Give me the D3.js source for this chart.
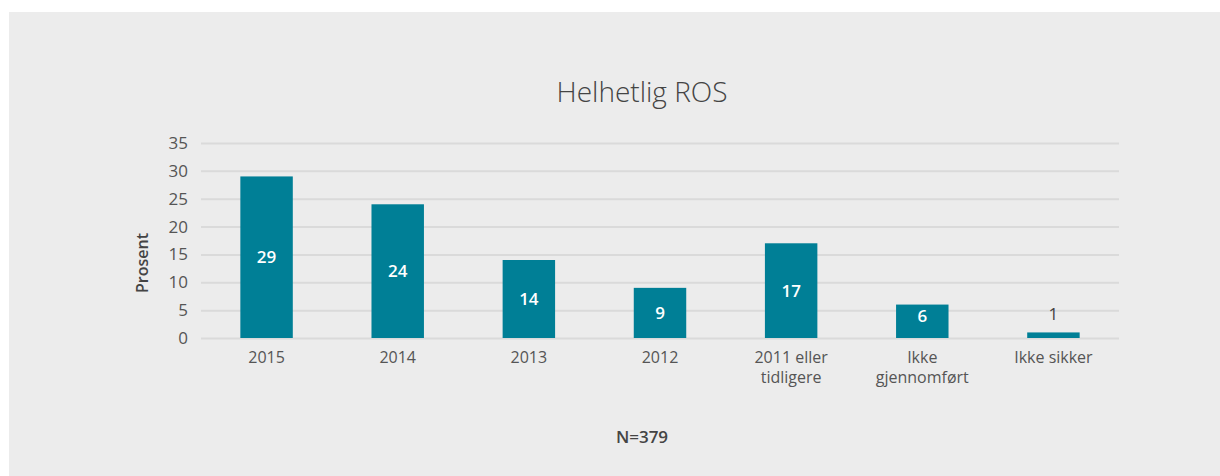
<!DOCTYPE html>
<html>
<head>
<meta charset="utf-8">
<script src="https://cdn.jsdelivr.net/npm/d3@7"></script>
<style>
  body { margin: 0; background: #fff; }
  svg { display: block; font-family: "Open Sans", Lato, sans-serif; }
</style>
</head>
<body>
<svg id="chart" width="1220" height="476"></svg>
<script>
// data
const categories = ["2015", "2014", "2013", "2012", "2011 eller\ntidligere", "Ikke\ngjennomført", "Ikke sikker"];
const values = [29, 24, 14, 9, 17, 6, 1];
const yTicks = [0, 5, 10, 15, 20, 25, 30, 35];

const svg = d3.select("#chart");

svg.append("rect")
  .attr("x", 9).attr("y", 12)
  .attr("width", 1211).attr("height", 464)
  .attr("fill", "#ececec");

const x = d3.scaleBand().domain(categories).range([201, 1119]).paddingInner(0.6).paddingOuter(0.3);
const y = d3.scaleLinear().domain([0, 35]).range([338, 143]);

// gridlines
svg.append("g")
  .attr("transform", "translate(201,0)")
  .call(d3.axisLeft(y).tickValues(yTicks).tickSize(-918).tickFormat(""))
  .call(g => g.select(".domain").remove())
  .call(g => g.selectAll("line").attr("stroke", "#dadada").attr("stroke-width", 2));

// y tick labels
svg.append("g")
  .attr("transform", "translate(188,0)")
  .call(d3.axisLeft(y).tickValues(yTicks).tickSize(0).tickPadding(0))
  .call(g => g.select(".domain").remove())
  .call(g => g.selectAll("text")
    .attr("font-size", 17).attr("fill", "#555").attr("font-family", "Open Sans, sans-serif"));

// bars
svg.append("g").selectAll("rect")
  .data(values)
  .join("rect")
  .attr("x", (d, i) => x(categories[i]))
  .attr("y", d => y(d))
  .attr("width", x.bandwidth())
  .attr("height", d => y(0) - y(d))
  .attr("fill", "#007f96");

// value labels
svg.append("g").selectAll("text")
  .data(values)
  .join("text")
  .attr("x", (d, i) => x(categories[i]) + x.bandwidth() / 2)
  .attr("y", d => d < 3 ? y(d) - 18 : Math.min((y(d) + y(0)) / 2, y(0) - 22))
  .attr("dy", "0.35em")
  .attr("text-anchor", "middle")
  .attr("font-size", 17)
  .attr("font-weight", d => d < 3 ? 400 : 600)
  .attr("fill", d => d < 3 ? "#444" : "#fff")
  .text(d => d);

// x labels
const xl = svg.append("g").selectAll("text")
  .data(categories)
  .join("text")
  .attr("x", d => x(d) + x.bandwidth() / 2)
  .attr("y", 363)
  .attr("text-anchor", "middle")
  .attr("font-size", 16)
  .attr("fill", "#555");
xl.each(function(d) {
  const t = d3.select(this);
  d.split("\n").forEach((line, i) => {
    t.append("tspan").attr("x", t.attr("x")).attr("dy", i === 0 ? 0 : 20).text(line);
  });
});

// title
svg.append("text")
  .attr("x", 642).attr("y", 102)
  .attr("text-anchor", "middle")
  .attr("font-size", 28)
  .attr("font-weight", 300)
  .attr("fill", "#444")
  .text("Helhetlig ROS");

// y axis title
svg.append("text")
  .attr("transform", "translate(148,263) rotate(-90)")
  .attr("text-anchor", "middle")
  .attr("font-size", 16)
  .attr("font-weight", 600)
  .attr("fill", "#444")
  .text("Prosent");

// N
svg.append("text")
  .attr("x", 642).attr("y", 443)
  .attr("text-anchor", "middle")
  .attr("font-size", 17)
  .attr("font-weight", 600)
  .attr("fill", "#444")
  .text("N=379");
</script>
</body>
</html>
